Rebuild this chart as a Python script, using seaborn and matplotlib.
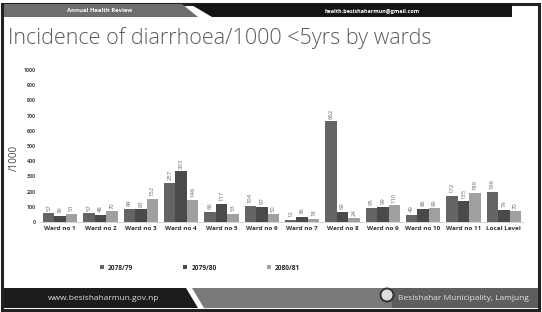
import matplotlib
matplotlib.use("Agg")
import matplotlib.pyplot as plt
from matplotlib.patches import Rectangle, Polygon, Ellipse
import pandas as pd
import seaborn as sns

# data
wards = ["Ward no 1", "Ward no 2", "Ward no 3", "Ward no 4", "Ward no 5", "Ward no 6",
         "Ward no 7", "Ward no 8", "Ward no 9", "Ward no 10", "Ward no 11", "Local Level"]
years = ["2078/79", "2079/80", "2080/81"]
y2078 = [57, 57, 84, 257, 66, 104, 12, 662, 95, 49, 172, 196]
y2079 = [39, 48, 83, 333, 117, 97, 36, 69, 99, 86, 135, 79]
y2080 = [51, 70, 152, 146, 53, 50, 18, 24, 110, 89, 189, 70]
yticks = [0, 100, 200, 300, 400, 500, 600, 700, 800, 900, 1000]

df = pd.DataFrame({
    "ward": wards * 3,
    "year": [years[0]] * 12 + [years[1]] * 12 + [years[2]] * 12,
    "value": y2078 + y2079 + y2080,
})

sns.set_theme(style="white")
plt.rcParams["font.family"] = ["Open Sans", "DejaVu Sans"]

W, H = 542, 312
fig = plt.figure(figsize=(W / 100, H / 100), dpi=100)

def px(x0, y0, x1, y1):
    # pixel box (top-left origin) -> figure rect
    return (x0 / W, 1 - y1 / H, (x1 - x0) / W, (y1 - y0) / H)

def poly(pts, color):
    fig.patches.append(Polygon([(x / W, 1 - y / H) for x, y in pts], closed=True,
                               transform=fig.transFigure, facecolor=color, edgecolor="none"))

# slide frame
fig.patches.append(Rectangle((2 / W, 1 - 310 / H), 537 / W, 306 / H, transform=fig.transFigure,
                             fill=False, edgecolor="#222222", linewidth=2.2))

# header bar
poly([(4, 4), (182, 4), (198, 17), (4, 17)], "#6e6e6e")
poly([(190, 4), (512, 4), (512, 17), (212, 17)], "#151515")
fig.text(100 / W, 1 - 11 / H, "Annual Health Review", color="white", fontsize=4.2,
         fontweight="bold", ha="center", va="center")
fig.text(372 / W, 1 - 11 / H, "health.besishaharmun@gmail.com", color="white", fontsize=4,
         fontweight="bold", ha="center", va="center")

# title
fig.text(8 / W, 1 - 38 / H, "Incidence of diarrhoea/1000 <5yrs by wards", color="#5a5a5a",
         fontsize=15.5, fontweight="light", ha="left", va="center")

# footer bar
poly([(4, 288), (186, 288), (198, 308), (4, 308)], "#1c1c1c")
poly([(192, 288), (392, 288), (392, 308), (204, 308)], "#7a7a7a")
poly([(392, 288), (538, 288), (538, 308), (392, 308)], "#5e5e5e")
fig.patches.append(Ellipse((387 / W, 1 - 295 / H), 13 / W, 13 / H, transform=fig.transFigure,
                           facecolor="#dddddd", edgecolor="#333333", linewidth=1.4))
fig.text(48 / W, 1 - 298 / H, "www.besishaharmun.gov.np", color="#dddddd", fontsize=6,
         ha="left", va="center")
fig.text(398 / W, 1 - 298 / H, "Besishahar Municipality, Lamjung", color="#e0e0e0", fontsize=6,
         ha="left", va="center")

# chart
ax = fig.add_axes(px(40, 70, 524, 222))
palette = {"2078/79": "#646464", "2079/80": "#4a4a4a", "2080/81": "#a0a0a0"}
sns.barplot(data=df, x="ward", y="value", hue="year", palette=palette, width=0.85,
            saturation=1, linewidth=0, edgecolor="none", ax=ax, legend=True)
for cont in ax.containers:
    ax.bar_label(cont, rotation=90, fontsize=4.2, padding=2, color="#666666")

ax.set_ylim(0, 1000)
ax.set_yticks(yticks)
ax.set_yticklabels([str(t) for t in yticks], fontsize=3.8, fontweight="bold", color="#444444")
ax.set_xticks(range(len(wards)))
ax.set_xticklabels(wards, fontsize=4.6, fontweight="bold", color="#333333")
ax.tick_params(axis="both", length=0, pad=3)
ax.set_xlabel("")
ax.set_ylabel("/1000", fontsize=7, color="#444444")
ax.yaxis.set_label_coords(-0.042, 0.42)
for s in ["top", "right", "left"]:
    ax.spines[s].set_visible(False)
ax.spines["bottom"].set_color("#cccccc")
ax.spines["bottom"].set_linewidth(0.6)

handles, labels = ax.get_legend_handles_labels()
ax.get_legend().remove()
fig.legend(handles, labels, loc="center", bbox_to_anchor=(200 / W, 1 - 268 / H), ncol=3,
           frameon=False, handlelength=0.6, handleheight=0.6,
           columnspacing=7.5, handletextpad=0.6, prop={"weight": "bold", "size": 4.8})

fig.savefig("out.png", dpi=100)
